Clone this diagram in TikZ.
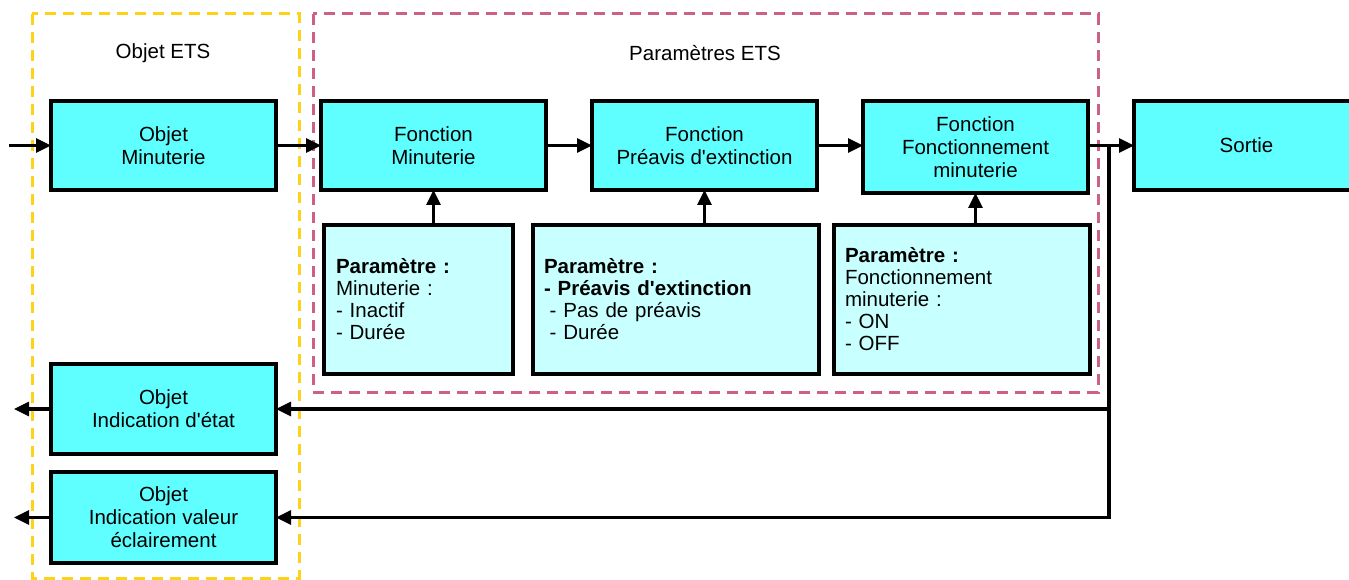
\documentclass[tikz,border=0pt]{standalone}
\usepackage{fontspec}
\setmainfont{Liberation Sans}
\usetikzlibrary{arrows.meta}
\definecolor{boxcyan}{HTML}{5FFFFF}
\definecolor{parcyan}{HTML}{C8FFFF}
\definecolor{etsyellow}{HTML}{FFD21A}
\definecolor{etspink}{HTML}{CC6088}
\newcommand{\apos}{\textquotesingle}
\tikzset{
  fbox/.style={draw=black, line width=3.3pt, fill=boxcyan, inner sep=0pt, outer sep=0pt,
    align=center, font=\fontsize{20.5}{23}\selectfont},
  pbox/.style={draw=black, line width=3.3pt, fill=parcyan, inner sep=0pt, outer sep=0pt,
    align=left, font=\fontsize{20.5}{22}\selectfont},
  arr/.style={line width=3.2pt, -{Triangle[length=15pt,width=14pt]}},
  frame/.style={line width=3pt, dash pattern=on 11pt off 7pt},
  heading/.style={font=\fontsize{20.5}{23}\selectfont, inner sep=0pt}
}
\begin{document}
\begin{tikzpicture}[x=1pt,y=-1pt]
\useasboundingbox (0,0) rectangle (1349,580);
\clip (0,0) rectangle (1349,580);
% frames
\draw[frame, draw=etsyellow] (32,14) rectangle (299,578);
\draw[frame, draw=etspink] (313,14) rectangle (1098,392);
\node[heading] (hobj) at (163,53) {Objet ETS};
\node[heading] (hpar) at (705,53) {Paramètres ETS};
% function boxes
\node[fbox, minimum width=225pt, minimum height=89pt] (om) at (163.5,145.5) {Objet\\Minuterie};
\node[fbox, minimum width=225pt, minimum height=89pt] (fm) at (433.5,145.5) {Fonction\\Minuterie};
\node[fbox, minimum width=225pt, minimum height=89pt] (fp) at (704.5,145.5) {Fonction\\Préavis d\apos extinction};
\node[fbox, minimum width=225pt, minimum height=92pt] (ff) at (975.5,147) {Fonction\\Fonctionnement\\minuterie};
\node[fbox, minimum width=225pt, minimum height=89pt] (so) at (1246.5,145.5) {Sortie};
\node[fbox, minimum width=225pt, minimum height=90pt] (oi) at (163.5,409) {Objet\\Indication d\apos état};
\node[fbox, minimum width=225pt, minimum height=91pt] (ov) at (163.5,517.5) {Objet\\Indication valeur\\éclairement};
% parameter boxes
\node[pbox, minimum width=189pt, minimum height=149pt, text width=165pt] (p1) at (418.5,299.5)
  {\textbf{Paramètre :}\\Minuterie :\\- Inactif\\- Durée};
\node[pbox, minimum width=286pt, minimum height=149pt, text width=264pt] (p2) at (676,299.5)
  {\textbf{Paramètre :}\\\textbf{- Préavis d\apos extinction}\\\hspace*{5.7pt}- Pas de préavis\\\hspace*{5.7pt}- Durée};
\node[pbox, minimum width=256pt, minimum height=149pt, text width=234pt] (p3) at (962,299.5)
  {\textbf{Paramètre :}\\Fonctionnement\\minuterie :\\- ON\\- OFF};
% connectors
\coordinate (inp) at (9,145.5);
\coordinate (outx) at (14,0);
\coordinate (j) at (1109,145.5);
\draw[arr] (inp) -- (om.west);
\draw[arr] (om.east) -- (fm.west);
\draw[arr] (fm.east) -- (fp.west);
\draw[arr] (fp.east) -- (fp.east -| ff.west);
\draw[arr] (so.west -| ff.east) -- (so.west);
\draw[arr] (fm.south |- p1.north) -- (fm.south);
\draw[arr] (fp.south |- p2.north) -- (fp.south);
\draw[arr] (ff.south |- p3.north) -- (ff.south);
\draw[arr] (j) |- (oi.east);
\draw[arr] (j) |- (ov.east);
\draw[arr] (oi.west) -- (oi.west -| outx);
\draw[arr] (ov.west) -- (ov.west -| outx);
\end{tikzpicture}
\end{document}
